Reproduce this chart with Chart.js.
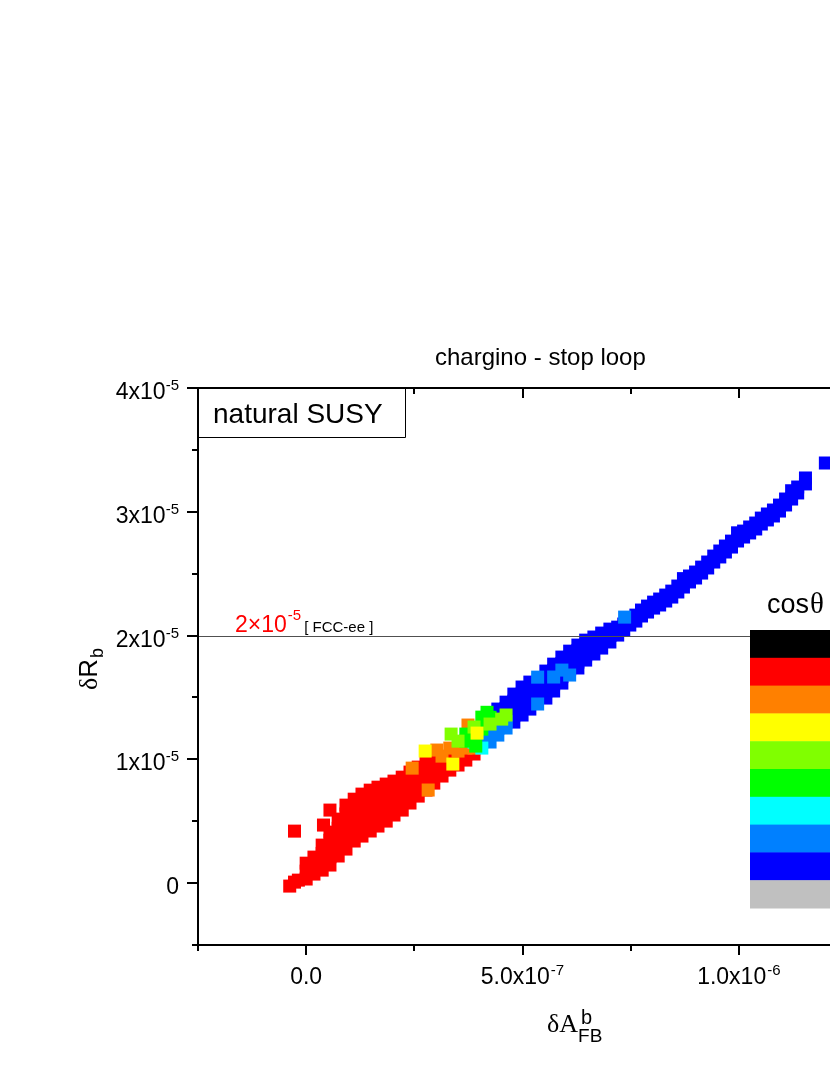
<!DOCTYPE html>
<html lang="en">
<head>
<meta charset="UTF-8">
<title>chargino - stop loop</title>
<script src="https://cdn.jsdelivr.net/npm/chart.js"></script>
<style>
    html, body { margin: 0; padding: 0; background: #fff; overflow: hidden; }
    #wrap { width: 900px; height: 1075px; }
</style>
</head>
<body>
<div id="wrap"><canvas id="scatterChart" width="900" height="1075"></canvas></div>
<script>
// x values in units of 1e-7 (dA_FB^b), y values in units of 1e-5 (dR_b)
const red = [
    [-0.38,-0.024],[-0.27,0.008],[-0.27,0.420],[-0.18,0.024],[0.40,0.469],[0.55,0.590],
    [0.00,0.033],[0.00,0.097],[0.00,0.161],
    [0.18,0.073],[0.18,0.141],[0.18,0.210],
    [0.37,0.105],[0.37,0.172],[0.37,0.240],[0.37,0.307],
    [0.55,0.146],[0.55,0.213],[0.55,0.279],[0.55,0.346],[0.55,0.412],
    [0.74,0.219],[0.74,0.294],[0.74,0.368],[0.74,0.443],[0.74,0.517],
    [0.92,0.275],[0.92,0.346],[0.92,0.417],[0.92,0.488],[0.92,0.559],[0.92,0.630],
    [1.11,0.340],[1.11,0.408],[1.11,0.475],[1.11,0.543],[1.11,0.610],[1.11,0.678],
    [1.29,0.380],[1.29,0.448],[1.29,0.516],[1.29,0.583],[1.29,0.651],[1.29,0.719],
    [1.48,0.421],[1.48,0.487],[1.48,0.553],[1.48,0.619],[1.48,0.685],[1.48,0.751],
    [1.66,0.461],[1.66,0.524],[1.66,0.587],[1.66,0.649],[1.66,0.712],[1.66,0.775],
    [1.85,0.501],[1.85,0.576],[1.85,0.650],[1.85,0.725],[1.85,0.800],
    [2.03,0.550],[2.03,0.619],[2.03,0.687],[2.03,0.756],[2.03,0.824],
    [2.22,0.590],[2.22,0.657],[2.22,0.723],[2.22,0.790],[2.22,0.856],
    [2.40,0.647],[2.40,0.730],[2.40,0.814],[2.40,0.897],
    [2.59,0.703],[2.59,0.781],[2.59,0.859],[2.59,0.937],
    [2.77,0.752],[2.77,0.827],[2.77,0.902],[2.77,0.977],
    [2.95,0.808],[2.95,0.878],[2.95,0.948],[2.95,1.018],
    [3.14,0.865],[3.14,0.914],[3.14,0.962],
    [3.32,0.913],[3.32,0.966],[3.32,1.018],
    [3.51,0.954],[3.51,1.010],[3.69,0.994],[3.69,1.043],[3.88,1.043]
];
const orange = [
    [2.45,0.929],[2.82,0.752],[3.02,1.075],[3.14,1.026],[3.32,1.091],[3.51,1.067],
    [3.69,1.091],[3.74,1.277],[3.88,1.091]
];
const yellow = [[2.75,1.067],[3.39,0.962],[3.95,1.212]];
const chartreuse = [[3.35,1.204],[3.51,1.147],[3.88,1.261],[4.25,1.285],[4.52,1.325],[4.62,1.358]];
const green = [[3.69,1.147],[3.69,1.204],[3.88,1.196],[4.06,1.244],[4.06,1.341],[4.18,1.380],[3.92,1.107],[4.25,1.340]];
const cyan = [[3.88,1.139],[4.06,1.091]];
const azure = [
    [4.06,1.140],[4.06,1.188],[4.25,1.140],[4.25,1.228],[4.43,1.196],[4.43,1.250],[4.43,1.301],
    [4.62,1.253],[4.62,1.305],[5.35,1.447],[5.35,1.664],[5.72,1.665],[5.91,1.721],[6.09,1.681],[7.36,2.149]
];
const blue = [
    [4.43,1.355],[4.43,1.406],[4.62,1.410],[4.62,1.462],
    [4.80,1.301],[4.80,1.357],[4.80,1.414],[4.80,1.470],[4.80,1.527],
    [4.99,1.358],[4.99,1.414],[4.99,1.471],[4.99,1.527],[4.99,1.584],
    [5.17,1.406],[5.17,1.462],[5.17,1.519],[5.17,1.571],[5.17,1.624],
    [5.35,1.503],[5.35,1.560],[5.35,1.612],
    [5.54,1.495],[5.54,1.551],[5.54,1.608],[5.54,1.660],[5.54,1.713],
    [5.72,1.552],[5.72,1.608],[5.72,1.717],[5.72,1.769],
    [5.91,1.616],[5.91,1.668],[5.91,1.773],[5.91,1.826],
    [6.09,1.730],[6.09,1.778],[6.09,1.826],[6.09,1.874],
    [6.28,1.738],[6.28,1.786],[6.28,1.834],[6.28,1.878],[6.28,1.923],
    [6.46,1.802],[6.46,1.843],[6.46,1.883],[6.46,1.923],[6.46,1.963],
    [6.65,1.851],[6.65,1.920],[6.65,1.988],[6.83,1.899],[6.83,1.960],[6.83,2.020],
    [7.02,1.948],[7.02,2.000],[7.02,2.052],[7.20,2.004],[7.20,2.068],
    // upper edge of the narrow tail
    [7.34,2.093],[7.48,2.133],[7.62,2.165],[7.75,2.206],[7.89,2.238],[8.03,2.270],
    [8.17,2.295],[8.31,2.327],[8.45,2.359],[8.59,2.400],[8.72,2.460],[8.86,2.481],
    [9.00,2.513],[9.14,2.553],[9.28,2.594],[9.42,2.642],[9.56,2.683],[9.69,2.723],
    [9.83,2.763],[9.97,2.830],[10.11,2.844],[10.25,2.877],[10.39,2.909],[10.52,2.949],
    [10.66,2.982],[10.80,3.014],[10.94,3.054],[11.08,3.103],[11.22,3.170],[11.36,3.200],
    [11.54,3.273],
    // lower edge of the narrow tail
    [7.34,2.045],[7.48,2.085],[7.62,2.117],[7.75,2.158],[7.89,2.190],[8.03,2.222],
    [8.17,2.247],[8.31,2.279],[8.45,2.311],[8.59,2.352],[8.72,2.392],[8.86,2.433],
    [9.00,2.465],[9.14,2.505],[9.28,2.546],[9.42,2.594],[9.56,2.635],[9.69,2.675],
    [9.83,2.715],[9.97,2.764],[10.11,2.796],[10.25,2.829],[10.39,2.861],[10.52,2.901],
    [10.66,2.934],[10.80,2.966],[10.94,3.006],[11.08,3.055],[11.22,3.103],[11.36,3.152],
    [11.54,3.225],
    [12.00,3.394]
];

const legendColors = ['#000000','#ff0000','#ff8000','#ffff00','#80ff00','#00ff00','#00ffff','#0080ff','#0000ff','#c0c0c0'];

const yMajorTicks = [0, 1, 2, 3, 4];
const yMinorTicks = [-0.5, 0.5, 1.5, 2.5, 3.5];
const yTickLabels = [['0', ''], ['1x10', '-5'], ['2x10', '-5'], ['3x10', '-5'], ['4x10', '-5']];
const xMajorTicks = [0, 5, 10];
const xMinorTicks = [-2.5, 2.5, 7.5, 12.5];
const xTickLabels = [['0.0', ''], ['5.0x10', '-7'], ['1.0x10', '-6']];
const fccLevel = 2;

const SANS = "'Liberation Sans', Arial, sans-serif";
const SERIF = "'Liberation Serif', 'Times New Roman', serif";

function makeSet(label, pts, color) {
    return {
        label: label,
        data: pts.map(p => ({ x: p[0], y: p[1] })),
        backgroundColor: color,
        borderColor: color,
        pointStyle: 'rect',
        pointRadius: 9.2,
        pointHoverRadius: 9.2,
        pointBorderWidth: 0
    };
}

const framePlugin = {
    id: 'frame',
    afterDraw(chart) {
        const { ctx, chartArea: a, scales: { x, y } } = chart;
        const barLeft = 750, barTop = 630, barH = 27.8, barW = 120;
        ctx.save();

        // FCC-ee sensitivity line
        const yl = Math.round(y.getPixelForValue(fccLevel)) + 0.5;
        ctx.strokeStyle = '#505050';
        ctx.lineWidth = 1;
        ctx.beginPath();
        ctx.moveTo(a.left, yl);
        ctx.lineTo(barLeft, yl);
        ctx.stroke();

        ctx.textBaseline = 'alphabetic';
        ctx.textAlign = 'left';
        ctx.fillStyle = '#ff0000';
        ctx.font = '23px ' + SANS;
        ctx.fillText('2\u00d710', 235, 632);
        let w = ctx.measureText('2\u00d710').width;
        ctx.font = '15px ' + SANS;
        ctx.fillText('-5', 235 + w + 1, 620);
        let w2 = ctx.measureText('-5').width;
        ctx.fillStyle = '#000';
        ctx.font = '15px ' + SANS;
        ctx.fillText('[ FCC-ee ]', 235 + w + w2 + 4, 632);

        // colour bar
        legendColors.forEach((c, i) => {
            ctx.fillStyle = c;
            ctx.fillRect(barLeft, barTop + i * barH, barW, barH + 0.5);
        });
        ctx.fillStyle = '#000';
        ctx.font = '27px ' + SANS;
        ctx.fillText('cos', 767, 613);
        w = ctx.measureText('cos').width;
        ctx.font = '29px ' + SERIF;
        ctx.fillText('\u03b8', 767 + w + 1, 613);

        // axes
        ctx.strokeStyle = '#000';
        ctx.lineWidth = 2;
        ctx.beginPath();
        ctx.moveTo(a.left, a.top); ctx.lineTo(a.left, a.bottom);
        ctx.moveTo(a.left - 1, a.bottom); ctx.lineTo(a.right + 1, a.bottom);
        ctx.moveTo(a.left - 1, a.top); ctx.lineTo(a.right + 1, a.top);
        ctx.moveTo(a.right, a.top); ctx.lineTo(a.right, a.bottom);
        yMajorTicks.forEach(v => {
            const p = Math.round(y.getPixelForValue(v));
            ctx.moveTo(a.left - 11, p); ctx.lineTo(a.left, p);
            ctx.moveTo(a.right, p); ctx.lineTo(a.right - 10, p);
        });
        yMinorTicks.forEach(v => {
            const p = Math.round(y.getPixelForValue(v));
            ctx.moveTo(a.left - 6, p); ctx.lineTo(a.left, p);
            ctx.moveTo(a.right, p); ctx.lineTo(a.right - 5, p);
        });
        xMajorTicks.forEach(v => {
            const p = Math.round(x.getPixelForValue(v));
            ctx.moveTo(p, a.bottom); ctx.lineTo(p, a.bottom + 10);
            ctx.moveTo(p, a.top); ctx.lineTo(p, a.top + 10);
        });
        xMinorTicks.forEach(v => {
            const p = Math.round(x.getPixelForValue(v));
            ctx.moveTo(p, a.bottom); ctx.lineTo(p, a.bottom + 6);
            ctx.moveTo(p, a.top); ctx.lineTo(p, a.top + 6);
        });
        ctx.stroke();

        // tick labels
        ctx.fillStyle = '#000';
        yMajorTicks.forEach((v, i) => {
            const p = y.getPixelForValue(v);
            const [main, sup] = yTickLabels[i];
            ctx.font = '23px ' + SANS;
            const mw = ctx.measureText(main).width;
            ctx.font = '15px ' + SANS;
            const sw = sup ? ctx.measureText(sup).width : 0;
            const right = 179;
            ctx.font = '23px ' + SANS;
            ctx.fillText(main, right - sw - mw, p + 11);
            if (sup) {
                ctx.font = '15px ' + SANS;
                ctx.fillText(sup, right - sw, p + 2);
            }
        });
        xMajorTicks.forEach((v, i) => {
            const p = x.getPixelForValue(v);
            const [main, sup] = xTickLabels[i];
            ctx.font = '23px ' + SANS;
            const mw = ctx.measureText(main).width;
            ctx.font = '15px ' + SANS;
            const sw = sup ? ctx.measureText(sup).width + 1 : 0;
            const left = p - (mw + sw) / 2;
            ctx.font = '23px ' + SANS;
            ctx.fillText(main, left, 984);
            if (sup) {
                ctx.font = '15px ' + SANS;
                ctx.fillText(sup, left + mw + 1, 975);
            }
        });

        // natural SUSY box
        ctx.fillStyle = '#fff';
        ctx.fillRect(a.left + 1, a.top + 1, 206, 48);
        ctx.strokeStyle = '#000';
        ctx.lineWidth = 1;
        ctx.beginPath();
        ctx.moveTo(405.5, a.top); ctx.lineTo(405.5, 437.5); ctx.lineTo(a.left, 437.5);
        ctx.stroke();
        ctx.fillStyle = '#000';
        ctx.font = '28px ' + SANS;
        ctx.fillText('natural SUSY', 213, 423);

        // title
        ctx.font = '24px ' + SANS;
        ctx.fillText('chargino - stop loop', 435, 365);

        // x axis title
        ctx.font = '26px ' + SERIF;
        ctx.fillText('\u03b4A', 547, 1032);
        w = ctx.measureText('\u03b4A').width;
        ctx.font = '19px ' + SANS;
        ctx.fillText('FB', 547 + w, 1042);
        ctx.font = '20px ' + SANS;
        ctx.fillText('b', 547 + w + 3, 1024);

        // y axis title
        ctx.translate(97, 690);
        ctx.rotate(-Math.PI / 2);
        ctx.font = '26px ' + SERIF;
        ctx.fillText('\u03b4', 0, 0);
        w = ctx.measureText('\u03b4').width;
        ctx.font = '26px ' + SANS;
        ctx.fillText('R', w, 0);
        w += ctx.measureText('R').width;
        ctx.font = '18px ' + SANS;
        ctx.fillText('b', w + 1, 6);

        ctx.restore();
    }
};

new Chart(document.getElementById('scatterChart').getContext('2d'), {
    type: 'scatter',
    data: {
        datasets: [
            makeSet('yellow', yellow, '#ffff00'),
            makeSet('chartreuse', chartreuse, '#80ff00'),
            makeSet('green', green, '#00ff00'),
            makeSet('cyan', cyan, '#00ffff'),
            makeSet('azure', azure, '#0080ff'),
            makeSet('blue', blue, '#0000ff'),
            makeSet('orange', orange, '#ff8000'),
            makeSet('red', red, '#ff0000')
        ]
    },
    options: {
        responsive: false,
        animation: false,
        layout: { padding: { left: 198, top: 388, right: 53, bottom: 130 } },
        scales: {
            x: { type: 'linear', min: -2.5, max: 12.5, display: false },
            y: { type: 'linear', min: -0.5, max: 4, display: false }
        },
        plugins: { legend: { display: false }, tooltip: { enabled: false } }
    },
    plugins: [framePlugin]
});
</script>
</body>
</html>
